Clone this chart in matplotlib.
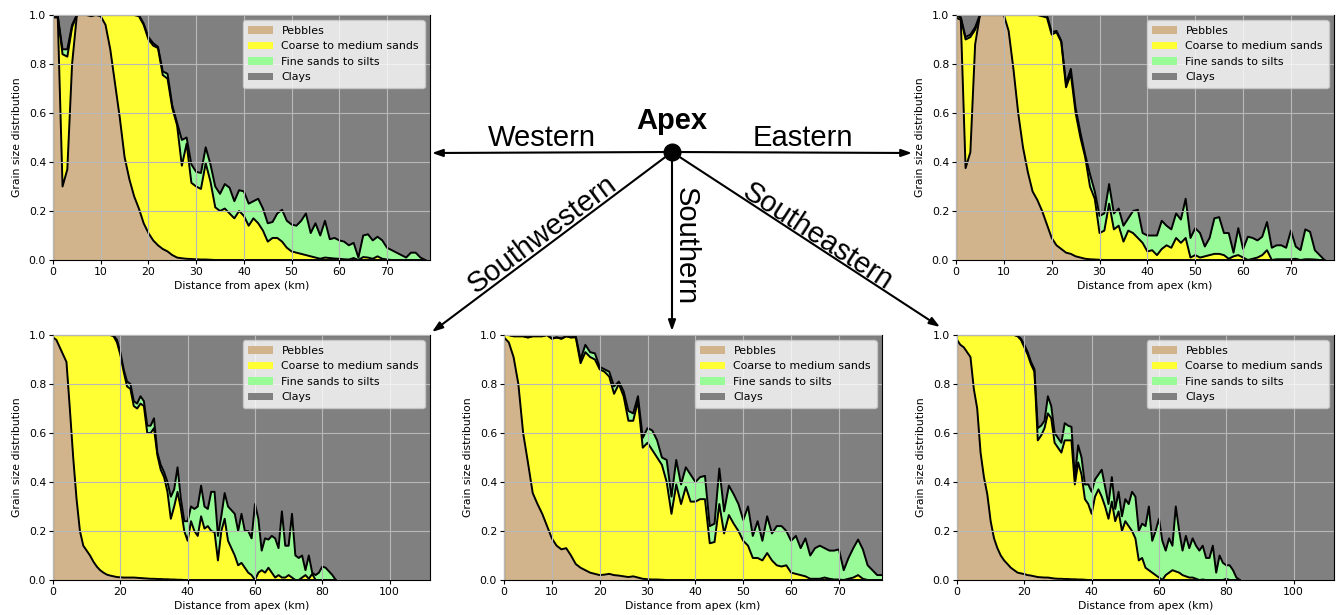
#!/usr/bin/env python3
"""
Grain size distribution along five transects radiating from the fan apex.
Stacked areas (pebbles / coarse-medium sands / fine sands-silts / clays).
"""

import matplotlib.pyplot as plt
import numpy as np
from matplotlib.patches import Patch

plt.rcParams.update({
    'font.family': 'DejaVu Sans',
    'font.size': 7.8,
    'xtick.labelsize': 7.8,
    'ytick.labelsize': 7.8,
    'axes.labelsize': 7.8,
    'legend.fontsize': 7.9,
})

# Colours
PEBBLE_C = '#d2b48c'
SAND_C = '#ffff33'
SILT_C = '#98fb98'
CLAY_C = '#808080'

LEGEND_LABELS = ['Pebbles', 'Coarse to medium sands', 'Fine sands to silts', 'Clays']

# ---------------------------------------------------------------------------
# Data: cumulative upper boundaries at 1 km steps from the apex
#   *_pebble   : pebbles
#   *_sand     : pebbles + coarse to medium sands
#   *_silt     : pebbles + sands + fine sands to silts (rest is clay)
# ---------------------------------------------------------------------------

# Western
w_pebble = [
    0.99, 0.99, 0.30, 0.37, 0.80, 1.00, 1.00, 1.00, 0.995, 1.00,
    0.995, 0.96, 0.86, 0.72, 0.58, 0.42, 0.33, 0.26, 0.21, 0.15,
    0.11, 0.08, 0.06, 0.045, 0.035, 0.02, 0.01, 0.007, 0.005, 0.004,
    0.003, 0.002, 0.002, 0.001, 0, 0, 0, 0, 0, 0,
    0, 0, 0, 0, 0, 0, 0, 0, 0, 0,
    0, 0, 0, 0, 0, 0, 0, 0, 0, 0,
    0, 0, 0, 0, 0, 0, 0, 0, 0, 0,
    0, 0, 0, 0, 0, 0, 0, 0, 0,
]
w_sand = [
    0.995, 0.995, 0.84, 0.83, 0.95, 1.00, 1.00, 1.00, 1.00, 1.00,
    1.00, 1.00, 1.00, 1.00, 1.00, 1.00, 1.00, 1.00, 0.995, 0.96,
    0.90, 0.875, 0.865, 0.755, 0.74, 0.62, 0.55, 0.385, 0.475, 0.315,
    0.30, 0.29, 0.395, 0.32, 0.215, 0.20, 0.21, 0.19, 0.17, 0.20,
    0.18, 0.14, 0.17, 0.15, 0.12, 0.075, 0.09, 0.09, 0.075, 0.05,
    0.035, 0.03, 0.025, 0.02, 0.015, 0.01, 0.005, 0.01, 0.008, 0.006,
    0.005, 0.003, 0.002, 0.008, 0.0, 0.012, 0.01, 0.005, 0.015, 0.005,
    0.002, 0, 0, 0, 0, 0, 0, 0, 0,
]
w_silt = [
    0.995, 0.995, 0.86, 0.86, 0.96, 1.00, 1.00, 1.00, 1.00, 1.00,
    1.00, 1.00, 1.00, 1.00, 1.00, 1.00, 1.00, 1.00, 1.00, 0.965,
    0.91, 0.885, 0.87, 0.77, 0.76, 0.63, 0.56, 0.49, 0.50, 0.39,
    0.36, 0.355, 0.46, 0.39, 0.30, 0.27, 0.31, 0.295, 0.24, 0.285,
    0.28, 0.23, 0.24, 0.25, 0.21, 0.15, 0.155, 0.19, 0.205, 0.16,
    0.145, 0.14, 0.16, 0.19, 0.11, 0.15, 0.10, 0.16, 0.085, 0.09,
    0.08, 0.075, 0.06, 0.07, 0.01, 0.10, 0.105, 0.08, 0.095, 0.08,
    0.05, 0.04, 0.03, 0.02, 0.01, 0.03, 0.03, 0.01, 0.0,
]

# Eastern
e_pebble = [
    0.99, 0.98, 0.375, 0.44, 0.88, 1.00, 1.00, 1.00, 1.00, 1.00,
    1.00, 0.935, 0.78, 0.60, 0.46, 0.36, 0.28, 0.245, 0.20, 0.145,
    0.09, 0.06, 0.045, 0.03, 0.025, 0.015, 0.01, 0.005, 0.003, 0.002,
    0.001, 0, 0, 0, 0, 0, 0, 0, 0, 0,
    0, 0, 0, 0, 0, 0, 0, 0, 0, 0,
    0, 0, 0, 0, 0, 0, 0, 0, 0, 0,
    0, 0, 0, 0, 0, 0, 0, 0, 0, 0,
    0, 0, 0, 0, 0, 0, 0, 0,
]
e_sand = [
    1.00, 0.99, 0.90, 0.91, 0.94, 1.00, 1.00, 1.00, 1.00, 1.00,
    1.00, 1.00, 1.00, 1.00, 1.00, 1.00, 1.00, 1.00, 0.995, 0.99,
    0.92, 0.93, 0.89, 0.705, 0.76, 0.60, 0.50, 0.42, 0.30, 0.25,
    0.11, 0.12, 0.23, 0.125, 0.14, 0.075, 0.12, 0.11, 0.09, 0.07,
    0.035, 0.04, 0.02, 0.045, 0.06, 0.05, 0.09, 0.07, 0.09, 0.01,
    0.02, 0.01, 0.015, 0.02, 0.025, 0.025, 0.02, 0.005, 0.015, 0.02,
    0.01, 0.0, 0.005, 0.01, 0.02, 0.04, 0.0, 0.003, 0.003, 0.003,
    0.003, 0.005, 0.0, 0.003, 0.003, 0.002, 0.0, 0.0,
]
e_silt = [
    1.00, 0.99, 0.91, 0.92, 0.95, 1.00, 1.00, 1.00, 1.00, 1.00,
    1.00, 1.00, 1.00, 1.00, 1.00, 1.00, 1.00, 1.00, 1.00, 1.00,
    0.93, 0.935, 0.895, 0.72, 0.78, 0.62, 0.52, 0.43, 0.35, 0.28,
    0.18, 0.19, 0.31, 0.19, 0.21, 0.14, 0.17, 0.20, 0.205, 0.11,
    0.10, 0.10, 0.10, 0.16, 0.14, 0.125, 0.19, 0.165, 0.25, 0.09,
    0.13, 0.11, 0.055, 0.09, 0.17, 0.175, 0.11, 0.11, 0.03, 0.13,
    0.045, 0.095, 0.09, 0.08, 0.095, 0.155, 0.05, 0.06, 0.06, 0.05,
    0.12, 0.055, 0.04, 0.125, 0.115, 0.04, 0.02, 0.0,
]

# Southwestern
sw_pebble = [
    0.99, 0.98, 0.95, 0.92, 0.89, 0.70, 0.50, 0.33, 0.20, 0.14,
    0.12, 0.10, 0.075, 0.055, 0.04, 0.03, 0.022, 0.018, 0.015, 0.012,
    0.011, 0.01, 0.01, 0.01, 0.01, 0.009, 0.008, 0.007, 0.006, 0.005,
    0.005, 0.004, 0.004, 0.003, 0.003, 0.002, 0.002, 0.001, 0.001, 0,
    0, 0, 0, 0, 0, 0, 0, 0, 0, 0,
    0, 0, 0, 0, 0, 0, 0, 0, 0, 0,
    0, 0, 0, 0, 0, 0, 0, 0, 0, 0,
    0, 0, 0, 0, 0, 0, 0, 0, 0, 0,
    0, 0, 0, 0, 0,
]
sw_sand = [
    1.00, 1.00, 1.00, 1.00, 1.00, 1.00, 1.00, 1.00, 1.00, 1.00,
    1.00, 1.00, 1.00, 1.00, 1.00, 1.00, 1.00, 1.00, 0.995, 0.97,
    0.92, 0.85, 0.79, 0.78, 0.71, 0.70, 0.72, 0.71, 0.60, 0.60,
    0.62, 0.51, 0.45, 0.42, 0.36, 0.25, 0.30, 0.36, 0.29, 0.20,
    0.16, 0.24, 0.20, 0.18, 0.26, 0.21, 0.22, 0.20, 0.195, 0.08,
    0.20, 0.25, 0.16, 0.13, 0.10, 0.06, 0.07, 0.05, 0.03, 0.02,
    0.0, 0.03, 0.04, 0.03, 0.05, 0.03, 0.01, 0.02, 0.01, 0.01,
    0.02, 0.01, 0.0, 0.0, 0.01, 0.02, 0.005, 0.025, 0.0, 0.0,
    0, 0, 0, 0, 0,
]
sw_silt = [
    1.00, 1.00, 1.00, 1.00, 1.00, 1.00, 1.00, 1.00, 1.00, 1.00,
    1.00, 1.00, 1.00, 1.00, 1.00, 1.00, 1.00, 1.00, 0.998, 0.98,
    0.93, 0.86, 0.81, 0.80, 0.73, 0.72, 0.75, 0.73, 0.63, 0.63,
    0.66, 0.52, 0.47, 0.44, 0.40, 0.34, 0.37, 0.46, 0.33, 0.24,
    0.24, 0.30, 0.29, 0.30, 0.385, 0.30, 0.29, 0.36, 0.36, 0.18,
    0.26, 0.355, 0.30, 0.285, 0.27, 0.20, 0.27, 0.20, 0.20, 0.17,
    0.31, 0.25, 0.12, 0.17, 0.165, 0.18, 0.17, 0.13, 0.28, 0.14,
    0.14, 0.27, 0.10, 0.09, 0.10, 0.04, 0.10, 0.03, 0.02, 0.03,
    0.055, 0.05, 0.035, 0.02, 0.0,
]

# Southern
s_pebble = [
    0.99, 0.97, 0.91, 0.80, 0.60, 0.48, 0.355, 0.31, 0.27, 0.22,
    0.17, 0.14, 0.125, 0.13, 0.10, 0.065, 0.05, 0.04, 0.03, 0.025,
    0.02, 0.022, 0.025, 0.02, 0.018, 0.015, 0.012, 0.015, 0.01, 0.005,
    0.003, 0.002, 0.002, 0.001, 0, 0, 0, 0, 0, 0,
    0, 0, 0, 0, 0, 0, 0, 0, 0, 0,
    0, 0, 0, 0, 0, 0, 0, 0, 0, 0,
    0, 0, 0, 0, 0, 0, 0, 0, 0, 0,
    0, 0, 0, 0, 0, 0, 0, 0, 0, 0,
]
s_sand = [
    1.00, 1.00, 0.995, 0.995, 0.995, 0.99, 0.995, 0.995, 0.995, 1.00,
    0.985, 0.99, 0.985, 0.995, 0.99, 0.99, 0.885, 0.93, 0.91, 0.90,
    0.86, 0.85, 0.83, 0.76, 0.80, 0.75, 0.65, 0.65, 0.73, 0.54,
    0.56, 0.53, 0.50, 0.47, 0.40, 0.27, 0.39, 0.31, 0.38, 0.32,
    0.32, 0.33, 0.33, 0.15, 0.155, 0.31, 0.19, 0.265, 0.23, 0.20,
    0.16, 0.14, 0.09, 0.09, 0.08, 0.11, 0.08, 0.06, 0.055, 0.06,
    0.03, 0.025, 0.02, 0.015, 0.005, 0.005, 0.005, 0.01, 0.005, 0.002,
    0.002, 0.0, 0.005, 0.01, 0.02, 0.005, 0.0, 0.0, 0.0, 0.0,
]
s_silt = [
    1.00, 1.00, 0.995, 0.995, 0.995, 0.99, 0.995, 0.995, 0.995, 1.00,
    0.985, 0.99, 0.985, 0.995, 0.99, 0.995, 0.90, 0.96, 0.93, 0.925,
    0.87, 0.86, 0.85, 0.79, 0.81, 0.77, 0.69, 0.68, 0.75, 0.58,
    0.62, 0.61, 0.57, 0.50, 0.49, 0.34, 0.49, 0.39, 0.46, 0.43,
    0.40, 0.42, 0.425, 0.22, 0.23, 0.455, 0.28, 0.385, 0.35, 0.31,
    0.245, 0.30, 0.18, 0.24, 0.16, 0.26, 0.19, 0.22, 0.22, 0.20,
    0.16, 0.18, 0.13, 0.17, 0.10, 0.13, 0.14, 0.13, 0.12, 0.12,
    0.125, 0.04, 0.09, 0.13, 0.165, 0.125, 0.06, 0.04, 0.02, 0.02,
]

# Southeastern
se_pebble = [
    0.98, 0.96, 0.95, 0.93, 0.91, 0.78, 0.70, 0.52, 0.42, 0.35,
    0.24, 0.17, 0.13, 0.10, 0.08, 0.065, 0.05, 0.04, 0.03, 0.027,
    0.024, 0.02, 0.018, 0.015, 0.012, 0.011, 0.01, 0.01, 0.008, 0.006,
    0.005, 0.005, 0.004, 0.004, 0.003, 0.003, 0.002, 0.002, 0.001, 0,
    0, 0, 0, 0, 0, 0, 0, 0, 0, 0,
    0, 0, 0, 0, 0, 0, 0, 0, 0, 0,
    0, 0, 0, 0, 0, 0, 0, 0, 0, 0,
    0, 0, 0, 0, 0, 0, 0, 0, 0, 0,
    0, 0, 0, 0, 0,
]
se_sand = [
    1.00, 1.00, 1.00, 1.00, 1.00, 1.00, 1.00, 1.00, 1.00, 1.00,
    1.00, 1.00, 1.00, 1.00, 1.00, 1.00, 1.00, 1.00, 0.995, 0.98,
    0.95, 0.92, 0.88, 0.85, 0.57, 0.59, 0.62, 0.68, 0.66, 0.56,
    0.54, 0.52, 0.57, 0.57, 0.57, 0.39, 0.48, 0.43, 0.33, 0.31,
    0.27, 0.34, 0.37, 0.34, 0.30, 0.25, 0.32, 0.24, 0.28, 0.20,
    0.24, 0.22, 0.20, 0.17, 0.08, 0.09, 0.05, 0.04, 0.03, 0.02,
    0.01, 0.0, 0.02, 0.03, 0.04, 0.035, 0.03, 0.02, 0.015, 0.01,
    0.01, 0.005, 0.0, 0.002, 0.0, 0.0, 0.0, 0.0, 0.0, 0.0,
    0.005, 0.0, 0.0, 0.0, 0.0,
]
se_silt = [
    1.00, 1.00, 1.00, 1.00, 1.00, 1.00, 1.00, 1.00, 1.00, 1.00,
    1.00, 1.00, 1.00, 1.00, 1.00, 1.00, 1.00, 1.00, 0.997, 0.985,
    0.96, 0.93, 0.89, 0.86, 0.62, 0.63, 0.65, 0.75, 0.71, 0.60,
    0.58, 0.56, 0.64, 0.63, 0.625, 0.42, 0.55, 0.50, 0.39, 0.39,
    0.36, 0.41, 0.43, 0.45, 0.38, 0.31, 0.42, 0.29, 0.36, 0.26,
    0.33, 0.31, 0.36, 0.34, 0.20, 0.23, 0.22, 0.30, 0.16, 0.20,
    0.25, 0.16, 0.12, 0.17, 0.14, 0.30, 0.20, 0.12, 0.18, 0.13,
    0.17, 0.14, 0.12, 0.14, 0.09, 0.09, 0.14, 0.03, 0.10, 0.07,
    0.06, 0.06, 0.04, 0.01, 0.0,
]

# x-limits of each panel (km)
W_XMAX, E_XMAX, S_XMAX = 79, 79, 79
SW_XMAX, SE_XMAX = 112, 112

# ---------------------------------------------------------------------------
fig = plt.figure(figsize=(13.38, 6.15), dpi=100)
FW, FH = 1338, 615


def panel_axes(left, top, right, bottom):
    """Axes from pixel box (origin top-left)."""
    return fig.add_axes([left / FW, 1 - bottom / FH, (right - left) / FW, (bottom - top) / FH])


def draw_panel(ax, pebble, sand, silt, xmax):
    pebble = np.asarray(pebble, dtype=float)
    sand = np.maximum(np.asarray(sand, dtype=float), pebble)
    silt = np.maximum(np.asarray(silt, dtype=float), sand)
    x = np.arange(len(pebble))

    ax.set_facecolor(CLAY_C)
    ax.fill_between(x, 0, pebble, color=PEBBLE_C, lw=0)
    ax.fill_between(x, pebble, sand, color=SAND_C, lw=0)
    ax.fill_between(x, sand, silt, color=SILT_C, lw=0)
    for y in (pebble, sand, silt):
        ax.plot(x, y, color='black', lw=1.4)

    ax.set_xlim(0, xmax)
    ax.set_ylim(0, 1)
    ax.grid(True, color='#b8b8b8', lw=0.8)
    ax.set_axisbelow(False)
    ax.set_xlabel('Distance from apex (km)', labelpad=3)
    ax.set_ylabel('Grain size distribution', labelpad=5)
    ax.tick_params(pad=2, length=3)

    handles = [Patch(facecolor=c, label=l)
               for c, l in zip([PEBBLE_C, SAND_C, SILT_C, CLAY_C], LEGEND_LABELS)]
    ax.legend(handles=handles, loc='upper right',
              handlelength=2.2, borderpad=0.5, labelspacing=0.5)


draw_panel(panel_axes(53, 15, 430, 260), w_pebble, w_sand, w_silt, W_XMAX)
draw_panel(panel_axes(956, 15, 1334, 260), e_pebble, e_sand, e_silt, E_XMAX)
draw_panel(panel_axes(53, 335, 430, 580), sw_pebble, sw_sand, sw_silt, SW_XMAX)
draw_panel(panel_axes(504, 335, 882, 580), s_pebble, s_sand, s_silt, S_XMAX)
draw_panel(panel_axes(957, 335, 1334, 580), se_pebble, se_sand, se_silt, SE_XMAX)

# Direction diagram (pixel coordinates, y downwards)
ov = fig.add_axes([0, 0, 1, 1], facecolor='none')
ov.set_xlim(0, FW)
ov.set_ylim(FH, 0)
ov.axis('off')

apex = (672, 152)
ends = [(432, 153), (912, 153), (432, 332), (672, 331), (940, 327)]
for end in ends:
    ov.annotate('', xy=end, xytext=apex,
                arrowprops=dict(arrowstyle='-|>,head_length=0.8,head_width=0.28',
                                color='black', lw=1.5, shrinkA=0, shrinkB=0))
ov.plot(*apex, 'o', color='black', markersize=12)

lab = dict(family='Liberation Sans', fontsize=21, ha='center', va='center')
ov.text(672, 121, 'Apex', fontweight='bold', **lab)
ov.text(542, 138, 'Western', **lab)
ov.text(803, 138, 'Eastern', **lab)
ov.text(542, 234, 'Southwestern', rotation=36.7, rotation_mode='anchor', **lab)
ov.text(686, 246, 'Southern', rotation=-90, rotation_mode='anchor', **lab)
ov.text(818, 237, 'Southeastern', rotation=-33.1, rotation_mode='anchor', **lab)

fig.savefig('out.png', dpi=100)
